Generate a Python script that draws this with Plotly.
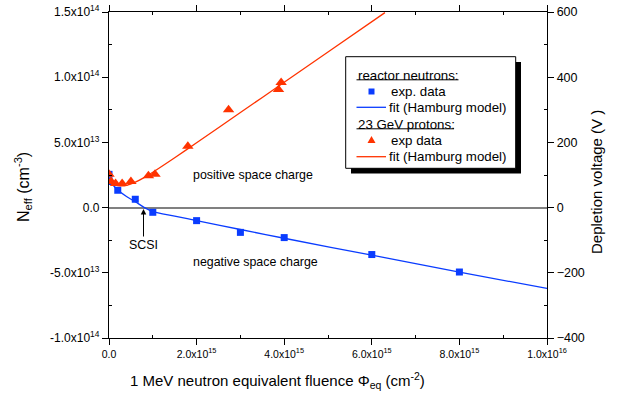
import plotly.graph_objects as go

# Reactor neutrons: measured points and Hamburg-model fit
neutron_phi = [0.0, 0.0, 0.2e15, 0.6e15, 1.0e15, 2.0e15, 3.0e15, 4.0e15, 6.0e15, 8.0e15]
neutron_neff = [2.55e13, 2.0e13, 1.33e13, 0.64e13, -0.36e13, -1.0e13, -1.9e13, -2.3e13, -3.6e13, -4.94e13]
neutron_fit_phi = [0.0, 0.1e15, 0.2e15, 0.4e15, 0.6e15, 0.8e15, 1.0e15, 1.5e15, 2.0e15, 3.0e15,
                   4.0e15, 6.0e15, 8.0e15, 10.0e15]
neutron_fit_neff = [2.1e13, 1.7e13, 1.35e13, 0.85e13, 0.45e13, 0.02e13, -0.3e13, -0.65e13, -1.0e13,
                    -1.68e13, -2.35e13, -3.65e13, -4.95e13, -6.2e13]

# 23 GeV protons: measured points and Hamburg-model fit
proton_phi = [0.0, 0.05e15, 0.15e15, 0.3e15, 0.5e15, 0.9e15, 1.05e15, 1.8e15, 2.73e15, 3.87e15, 3.93e15]
proton_neff = [2.55e13, 2.0e13, 1.85e13, 1.85e13, 2.0e13, 2.45e13, 2.55e13, 4.7e13, 7.5e13, 9.05e13, 9.6e13]
proton_fit_phi = [0.0, 0.1e15, 0.2e15, 0.3e15, 0.4e15, 0.6e15, 0.8e15, 1.0e15, 1.5e15, 2.0e15,
                  3.0e15, 4.0e15, 5.0e15, 6.3e15]
proton_fit_neff = [2.1e13, 1.82e13, 1.69e13, 1.66e13, 1.71e13, 1.95e13, 2.3e13, 2.71e13, 3.82e13,
                   4.97e13, 7.29e13, 9.61e13, 11.93e13, 14.95e13]

# Axis ticks
x_ticks = [0, 2e15, 4e15, 6e15, 8e15, 1e16]
x_ticktext = ["0.0", "2.0x10<sup>15</sup>", "4.0x10<sup>15</sup>", "6.0x10<sup>15</sup>",
              "8.0x10<sup>15</sup>", "1.0x10<sup>16</sup>"]
x_minor = [1e15, 3e15, 5e15, 7e15, 9e15]
y_ticks = [-1e14, -5e13, 0, 5e13, 1e14, 1.5e14]
y_ticktext = ["-1.0x10<sup>14</sup>", "-5.0x10<sup>13</sup>", "0.0", "5.0x10<sup>13</sup>",
              "1.0x10<sup>14</sup>", "1.5x10<sup>14</sup>"]
y_minor = [-7.5e13, -2.5e13, 2.5e13, 7.5e13, 1.25e14]
v_ticks = [-400, -200, 0, 200, 400, 600]
v_minor = [-300, -100, 100, 300, 500]

BLUE = "#0a3cff"
RED = "#ff3300"
FONT = "Arial, Liberation Sans, Helvetica, sans-serif"

W, H = 618, 403
ML, MR, MT, MB = 109, 71, 12, 65
PW, PH = W - ML - MR, H - MT - MB


def px(x):
    return (x - ML) / PW


def py(y):
    return (H - MB - y) / PH


fig = go.Figure()
fig.add_trace(go.Scatter(x=neutron_fit_phi, y=neutron_fit_neff, mode="lines",
                         line=dict(color=BLUE, width=1.3, shape="spline", smoothing=0.8)))
fig.add_trace(go.Scatter(x=neutron_phi, y=neutron_neff, mode="markers",
                         marker=dict(symbol="square", size=7, color=BLUE)))
fig.add_trace(go.Scatter(x=proton_fit_phi, y=proton_fit_neff, mode="lines",
                         line=dict(color=RED, width=1.3, shape="spline", smoothing=0.8)))
fig.add_trace(go.Scatter(x=proton_phi, y=proton_neff, mode="markers",
                         marker=dict(symbol="triangle-up", size=10, color=RED)))
# keeps the depletion-voltage axis on its own overlay
fig.add_trace(go.Scatter(x=[], y=[], yaxis="y2", showlegend=False))

axis_common = dict(showline=True, linecolor="black", linewidth=1.3, showgrid=False,
                   ticks="outside", ticklen=6, tickwidth=1.2, tickcolor="black",
                   automargin=False)

fig.update_layout(
    width=W, height=H, margin=dict(l=ML, r=MR, t=MT, b=MB, autoexpand=False),
    paper_bgcolor="white", plot_bgcolor="white", showlegend=False,
    font=dict(family=FONT, color="black"),
    xaxis=dict(range=[0, 1e16], tickmode="array", tickvals=x_ticks, ticktext=x_ticktext,
               tickfont=dict(size=10.5), mirror="ticks", zeroline=False,
               minor=dict(tickmode="array", tickvals=x_minor, ticks="inside", ticklen=3,
                          tickwidth=1, tickcolor="black"),
               **axis_common),
    yaxis=dict(range=[-1e14, 1.5e14], tickmode="array", tickvals=y_ticks, ticktext=y_ticktext,
               tickfont=dict(size=12), zeroline=True, zerolinecolor="#808080", zerolinewidth=2,
               minor=dict(tickmode="array", tickvals=y_minor, ticks="inside", ticklen=3,
                          tickwidth=1, tickcolor="black"),
               **axis_common),
    yaxis2=dict(range=[-400, 600], overlaying="y", side="right", anchor="x",
                tickmode="array", tickvals=v_ticks, tickfont=dict(size=12.5), zeroline=False,
                minor=dict(tickmode="array", tickvals=v_minor, ticks="inside", ticklen=3,
                           tickwidth=1, tickcolor="black"),
                **axis_common),
)

annotations = [
    dict(x=px(277), y=py(381), text="1 MeV neutron equivalent fluence \u03a6<sub>eq</sub> (cm<sup>-2</sup>)",
         font=dict(size=15)),
    dict(x=px(23), y=py(187), text="N<sub>eff</sub> (cm<sup>-3</sup>)", textangle=-90,
         font=dict(size=16)),
    dict(x=px(596), y=py(182), text="Depletion voltage (V )", textangle=-90, font=dict(size=15)),
    dict(x=px(253), y=py(175), text="positive space charge", font=dict(size=12.4)),
    dict(x=px(255.5), y=py(262), text="negative space charge", font=dict(size=12.4)),
    # legend entries
    dict(x=px(356), y=py(75), text="reactor neutrons:", xanchor="left", font=dict(size=13.3)),
    dict(x=px(389), y=py(91.5), text="exp. data", xanchor="left", font=dict(size=13.3)),
    dict(x=px(387), y=py(107.5), text="fit (Hamburg model)", xanchor="left", font=dict(size=13.3)),
    dict(x=px(356), y=py(124), text="23 GeV protons:", xanchor="left", font=dict(size=13.3)),
    dict(x=px(389), y=py(140), text="exp data", xanchor="left", font=dict(size=13.3)),
    dict(x=px(387), y=py(156.5), text="fit (Hamburg model)", xanchor="left", font=dict(size=13.3)),
]
for a in annotations:
    a.update(xref="paper", yref="paper", showarrow=False)
    a.setdefault("xanchor", "center")
    a["yanchor"] = "middle"
    fig.add_annotation(**a)

# SCSI arrow pointing at the space-charge sign inversion
fig.add_annotation(xref="paper", yref="paper", x=px(143.5), y=py(209), text="SCSI",
                   font=dict(size=12.4), showarrow=True, ax=0, ay=36, arrowhead=2,
                   arrowsize=1.1, arrowwidth=1, arrowcolor="black", standoff=0)

shapes = [
    # legend shadow and frame
    dict(type="rect", x0=px(351), x1=px(521), y0=py(62), y1=py(173.5),
         fillcolor="black", line=dict(width=0)),
    dict(type="rect", x0=px(345.7), x1=px(515.7), y0=py(56.7), y1=py(168.3),
         fillcolor="white", line=dict(color="black", width=1)),
    # underlined group headers
    dict(type="line", x0=px(356.5), x1=px(458.5), y0=py(79.8), y1=py(79.8),
         line=dict(color="black", width=1)),
    dict(type="line", x0=px(356.5), x1=px(454), y0=py(128.8), y1=py(128.8),
         line=dict(color="black", width=1)),
    # legend glyphs
    dict(type="rect", x0=px(368.5), x1=px(374.5), y0=py(88.5), y1=py(94.5),
         fillcolor=BLUE, line=dict(width=0)),
    dict(type="line", x0=px(356.5), x1=px(386), y0=py(107.3), y1=py(107.3),
         line=dict(color=BLUE, width=1.3)),
    dict(type="path",
         path=f"M {px(367.5)} {py(143)} L {px(375.5)} {py(143)} L {px(371.5)} {py(136)} Z",
         fillcolor=RED, line=dict(width=0)),
    dict(type="line", x0=px(356.5), x1=px(386), y0=py(156.7), y1=py(156.7),
         line=dict(color=RED, width=1.3)),
]
for s in shapes:
    s.update(xref="paper", yref="paper", layer="above")
    fig.add_shape(**s)

fig.write_html("out.html")
